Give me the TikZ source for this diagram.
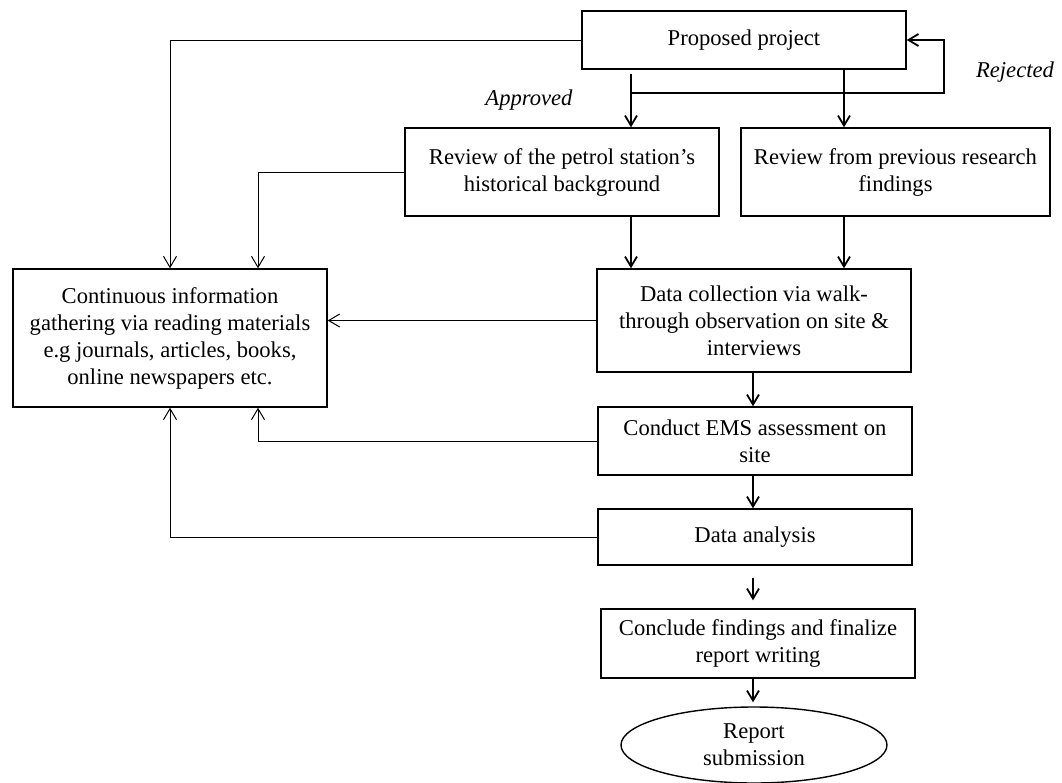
\documentclass[tikz,border=0pt]{standalone}
\usepackage{fontspec}
\setmainfont{Liberation Serif}
\usetikzlibrary{arrows.meta, shapes.geometric}

\begin{document}
\begin{tikzpicture}[
x=0.5pt, y=-0.5pt,
% text
every node/.style={font=\fontsize{11.3}{13.5}\selectfont},
% steps of the study
stage/.style={draw, line width=0.7pt, rectangle, align=center, inner sep=0, minimum width=157pt},
final/.style={draw, line width=0.7pt, ellipse, align=center, inner sep=0, minimum width=133pt, minimum height=38pt},
% connectors
flow/.style={line width=0.9pt, -{Straight Barb[length=5pt, width=6pt]}},
feed/.style={line width=0.5pt, -{Straight Barb[length=5.5pt, width=6.5pt]}},
% annotations
decision/.style={font=\fontsize{11.3}{13.5}\selectfont\itshape}
]

\useasboundingbox (0,0) rectangle (1062,783);

% COLUMNS AND CORNERS
\coordinate (apx) at (631,93); % approved branch
\coordinate (rvx) at (844,93); % second branch
\coordinate (rjx) at (944,93); % rejected loop corner
\coordinate (fbx) at (258,0); % inner feedback column
\coordinate (spine) at (753,0); % main column

% STEPS
\path
(744,40) node[stage, minimum width=162pt, minimum height=29pt] (prop) {Proposed project}
(562,172) node[stage, minimum height=44pt] (hist) {Review of the petrol station’s\\historical background}
(895.5,172) node[stage, minimum width=154.5pt, minimum height=44pt] (prev) {Review from previous research\\findings}
(170,338) node[stage, minimum height=69pt] (gather) {Continuous information\\gathering via reading materials\\e.g journals, articles, books,\\online newspapers etc.}
(754,320.5) node[stage, minimum height=51.5pt] (collect) {Data collection via walk-\\through observation on site \&\\interviews}
(755,441) node[stage, minimum height=34pt] (ems) {Conduct EMS assessment on\\site}
(755,537) node[stage, minimum height=28pt] (analysis) {Data analysis}
(758,643.5) node[stage, minimum height=34.5pt] (conclude) {Conclude findings and finalize\\report writing}
(754,745) node[final] (report) {Report\\submission}
;

% decisions
\path
(529,100) node[decision] (approved) {Approved}
(1015,72) node[decision] (rejected) {Rejected}
;

% MAIN FLOW
\draw[flow] (prop.south -| apx) ++(0,4) -- (hist.north -| apx);
\draw[flow] (prop.south -| rvx) -- (prev.north -| rvx);
\draw[flow] (apx) -- (rjx) |- (prop.east);
\draw[flow] (hist.south -| apx) -- (collect.north -| apx);
\draw[flow] (prev.south -| rvx) -- (collect.north -| rvx);
\draw[flow] (collect.south -| spine) -- (ems.north -| spine);
\draw[flow] (ems.south -| spine) -- (analysis.north -| spine);
\draw[flow, shorten <=6pt, shorten >=4pt] (analysis.south -| spine) -- (conclude.north -| spine);
\draw[flow, shorten >=2pt] (conclude.south -| spine) -- (report.north -| spine);

% FEEDBACK TO INFORMATION GATHERING
\draw[feed] (prop.west) -| (gather.north);
\draw[feed] (hist.west) -| (gather.north -| fbx);
\draw[feed] (collect.west) -- (collect.west -| gather.east);
\draw[feed] (ems.west) -| (gather.south -| fbx);
\draw[feed] (analysis.west) -| (gather.south);

\end{tikzpicture}
\end{document}
